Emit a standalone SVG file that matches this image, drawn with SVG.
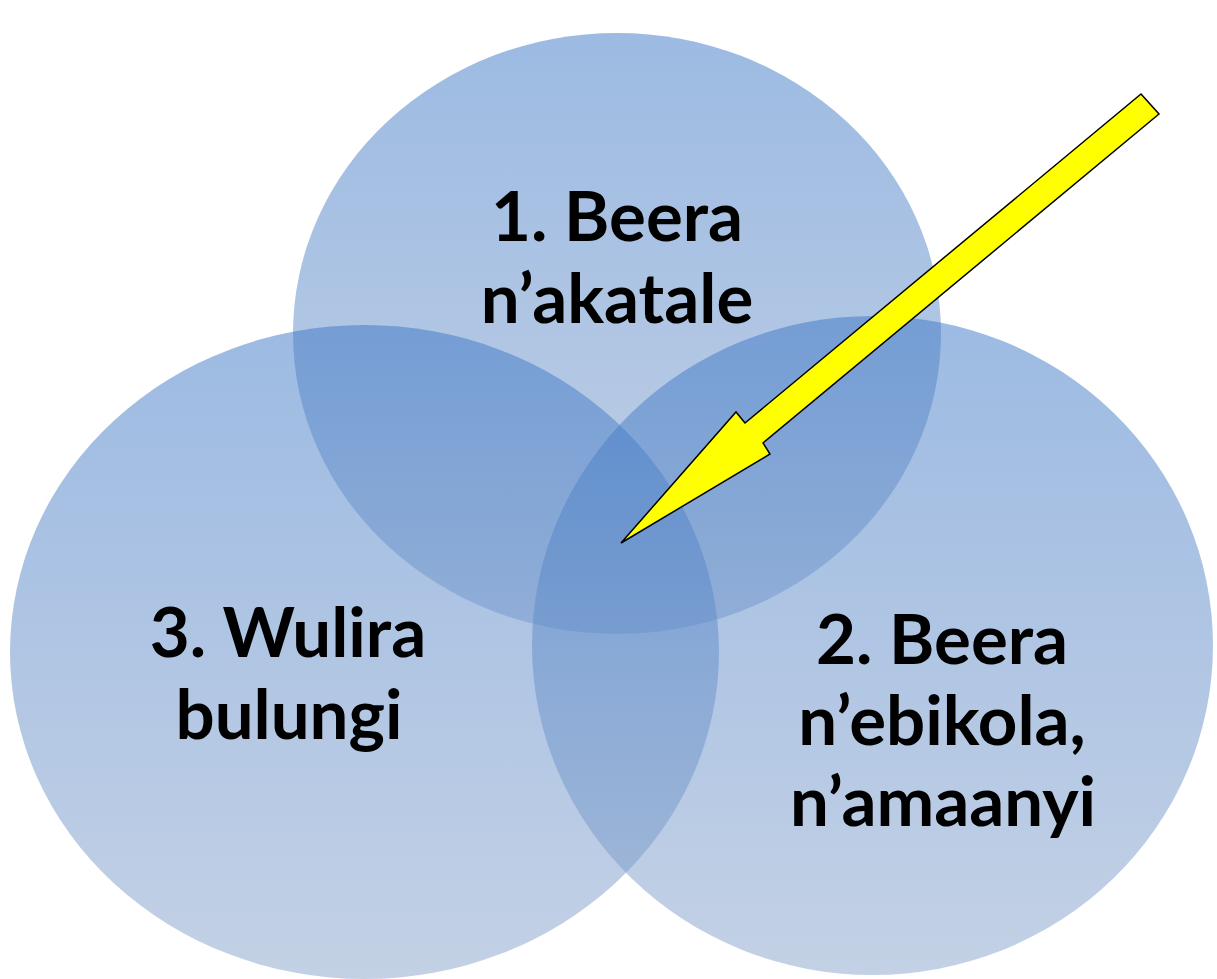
<svg xmlns="http://www.w3.org/2000/svg" width="1217" height="979" viewBox="0 0 1217 979">
<defs>
<linearGradient id="g" x1="0" y1="0" x2="0" y2="1">
<stop offset="0" stop-color="#3a76c6"/>
<stop offset="1" stop-color="#88a3cb"/>
</linearGradient>
<style>
.c{fill:url(#g);fill-opacity:0.5;stroke:none}
.t{font-family:Lato,"Open Sans","Liberation Sans",sans-serif;font-weight:700;font-size:69px;fill:#000;text-anchor:middle}
.a{fill:#ffff00;stroke:#000;stroke-width:1.5;stroke-linejoin:miter}
</style>
</defs>
<rect width="1217" height="979" fill="#fff"/>
<g id="circle1">
<ellipse class="c" cx="617" cy="333.5" rx="324" ry="300.5"/>
</g>
<g id="circle3">
<ellipse class="c" cx="364.5" cy="652" rx="354.5" ry="327"/>
</g>
<g id="circle2">
<ellipse class="c" cx="872.5" cy="645.5" rx="340.5" ry="329.5"/>
</g>
<g id="label1">
<text class="t" x="617" y="241">1. Beera</text>
<text class="t" x="617" y="323">n’akatale</text>
</g>
<g id="label3">
<text class="t" x="288" y="657">3. Wulira</text>
<text class="t" x="289" y="739">bulungi</text>
</g>
<g id="label2">
<text class="t" x="942" y="664">2. Beera</text>
<text class="t" x="942" y="745">n’ebikola,</text>
<text class="t" x="943" y="826">n’amaanyi</text>
</g>
<g id="connectors">
<polygon class="a" points="1141,94 1159,114 763,443 770,454 621,543 736,412 745,423"/>
</g>
</svg>
